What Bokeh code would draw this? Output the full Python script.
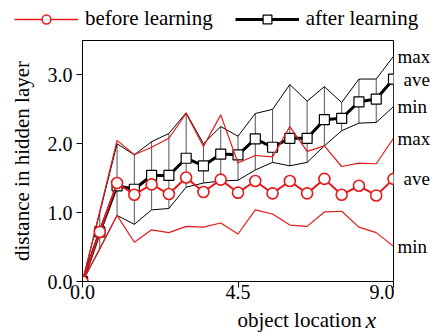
from bokeh.plotting import figure
from bokeh.layouts import column, row
from bokeh.models import (FixedTicker, CustomJSTickFormatter, Legend, LegendItem,
                          ColumnDataSource)
from bokeh.core.properties import value
from bokeh.embed import file_html
from bokeh.resources import INLINE

# object locations
xs = [0.0, 0.5, 1.0, 1.5, 2.0, 2.5, 3.0, 3.5, 4.0, 4.5,
      5.0, 5.5, 6.0, 6.5, 7.0, 7.5, 8.0, 8.5, 9.0]

# distances before learning
before_max = [0, 1.02, 2.05, 1.84, 1.95, 2.08, 2.44, 1.96, 2.42, 1.72,
              1.83, 1.81, 2.25, 1.89, 1.97, 1.67, 1.72, 1.71, 2.08]
before_ave = [0, 0.72, 1.43, 1.26, 1.41, 1.27, 1.51, 1.30, 1.48, 1.29,
              1.46, 1.28, 1.46, 1.28, 1.49, 1.26, 1.39, 1.25, 1.49]
before_min = [0, 0.48, 0.96, 0.57, 0.75, 0.71, 0.80, 0.79, 0.85, 0.69,
              1.04, 0.98, 0.82, 0.80, 1.01, 1.02, 0.79, 0.71, 0.51]

# distances after learning
after_max = [0, 1.00, 2.00, 1.84, 2.03, 2.15, 2.45, 2.00, 2.25, 2.11,
             2.44, 2.50, 2.86, 2.62, 2.83, 2.60, 2.94, 2.94, 3.27]
after_ave = [0, 0.72, 1.39, 1.34, 1.54, 1.54, 1.79, 1.68, 1.85, 1.84,
             2.07, 1.95, 2.08, 2.08, 2.35, 2.37, 2.61, 2.65, 2.94]
after_min = [0, 0.47, 0.96, 0.83, 1.04, 1.06, 1.37, 1.43, 1.46, 1.47,
             1.62, 1.73, 1.68, 1.73, 1.97, 2.19, 2.30, 2.31, 2.54]

x_ticks = [0, 4.5, 9]
y_ticks = [0, 1, 2, 3]

FONT = "Liberation Serif"
RED = "#e41a1c"
NAN = float("nan")
BOTTOM = 29  # room under the frame for the x tick labels


def bare(fig):
    fig.axis.visible = False
    fig.grid.visible = False
    fig.outline_line_color = None
    fig.background_fill_alpha = 0
    fig.border_fill_alpha = 0
    return fig


# ---- main chart ----
p = figure(width=394, height=241 + BOTTOM, x_range=(0, 9), y_range=(0, 3.5),
           output_backend="svg", toolbar_location=None,
           min_border_left=82, min_border_right=1,
           min_border_top=0, min_border_bottom=BOTTOM)
p.grid.visible = False
p.outline_line_color = "black"
p.outline_line_width = 1
p.background_fill_color = "white"
p.border_fill_color = "white"

for ax in (p.xaxis[0], p.yaxis[0]):
    ax.axis_line_color = "black"
    ax.major_tick_line_color = "black"
    ax.minor_tick_line_color = None
    ax.major_tick_out = 6
    ax.major_tick_in = 0
    ax.major_label_text_font = FONT
    ax.major_label_text_font_size = "20px"
    ax.major_label_text_color = "black"
    ax.formatter = CustomJSTickFormatter(code="return tick.toFixed(1);")

p.xaxis.ticker = FixedTicker(ticks=x_ticks)
p.yaxis.ticker = FixedTicker(ticks=y_ticks)
p.xaxis.major_label_standoff = -3
p.yaxis.major_label_standoff = 4

p.yaxis.axis_label = "distance in hidden layer"
p.yaxis.axis_label_text_font = FONT
p.yaxis.axis_label_text_font_size = "21px"
p.yaxis.axis_label_text_font_style = "normal"
p.yaxis.axis_label_text_color = "black"
p.yaxis.axis_label_standoff = 11

# spread of after-learning distances
p.segment(x0=xs, y0=after_min, x1=xs, y1=after_max,
          line_color="#555555", line_width=1)
p.line(xs, after_max, line_color="black", line_width=1)
p.line(xs, after_min, line_color="black", line_width=1)
p.line(xs, after_ave, line_color="black", line_width=3)
p.scatter(xs, after_ave, marker="square", size=10,
          fill_color="white", line_color="black", line_width=1.2)

# before-learning curves
p.line(xs, before_max, line_color=RED, line_width=1.2)
p.line(xs, before_min, line_color=RED, line_width=1.2)
p.line(xs, before_ave, line_color=RED, line_width=2)
p.scatter(xs, before_ave, marker="circle", size=11,
          fill_color="white", line_color=RED, line_width=1.6)

# ---- curve tags at the right end ----
r = bare(figure(width=39, height=241 + BOTTOM, x_range=(0, 39),
                y_range=p.y_range, output_backend="svg",
                toolbar_location=None, min_border_left=0, min_border_right=0,
                min_border_top=0, min_border_bottom=BOTTOM))
tag_src = ColumnDataSource(dict(
    y=[after_max[-1], after_min[-1], before_max[-1], before_min[-1]],
    text=["max", "min", "max", "min"]))
ave_src = ColumnDataSource(dict(
    y=[after_ave[-1], before_ave[-1]], text=["ave", "ave"]))
r.text(x=3, y="y", text="text", source=tag_src, text_font=value(FONT),
       text_font_size="19px", text_baseline="middle", text_color="black")
r.text(x=9, y="y", text="text", source=ave_src, text_font=value(FONT),
       text_font_size="19px", text_baseline="middle", text_color="black")

# ---- legend strip ----
lg = bare(figure(width=433, height=40, x_range=(0, 1), y_range=(0, 1),
                 output_backend="svg", toolbar_location=None,
                 min_border_left=0, min_border_right=0,
                 min_border_top=0, min_border_bottom=0))
kb_line = lg.line(x=[NAN], y=[NAN], line_color=RED, line_width=1.5)
kb_mark = lg.scatter(x=[NAN], y=[NAN], marker="circle", size=12,
                     fill_color="white", line_color=RED, line_width=1.5)
ka_line = lg.line(x=[NAN], y=[NAN], line_color="black", line_width=3)
ka_mark = lg.scatter(x=[NAN], y=[NAN], marker="square", size=11,
                     fill_color="white", line_color="black", line_width=1.2)
legend = Legend(items=[
    LegendItem(label="before learning", renderers=[kb_line, kb_mark]),
    LegendItem(label="after learning", renderers=[ka_line, ka_mark]),
], location=(14, 9), orientation="horizontal",
    glyph_width=64, glyph_height=22, label_height=22, label_standoff=7,
    spacing=22, padding=0, margin=0, border_line_color=None,
    background_fill_alpha=0, label_text_font=FONT,
    label_text_font_size="21px", label_text_color="black")
lg.add_layout(legend)

# ---- x axis title with italic variable ----
TITLE_H = 333 - 40 - (241 + BOTTOM)
xt = bare(figure(width=433, height=TITLE_H, x_range=(0, 433),
                 y_range=(0, TITLE_H), output_backend="svg",
                 toolbar_location=None, min_border_left=0, min_border_right=0,
                 min_border_top=0, min_border_bottom=0))
xt.text(x=[237], y=[13.5], text=["object location"], text_font=value(FONT),
        text_font_size="21px", text_baseline="alphabetic", text_color="black")
xt.text(x=[365], y=[13.5], text=["x"], text_font=value(FONT),
        text_font_style="italic", text_font_size="24px",
        text_baseline="alphabetic", text_color="black")

layout = column(lg, row(p, r, spacing=0), xt, spacing=0)
open("out.html", "w").write(file_html(layout, INLINE))
